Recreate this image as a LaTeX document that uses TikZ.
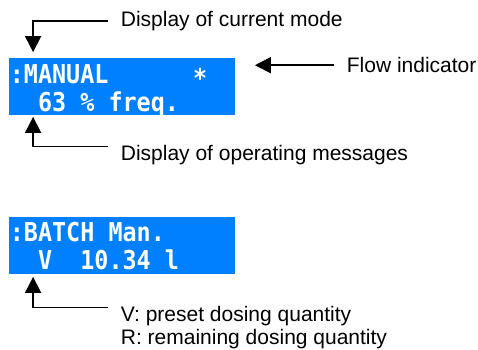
\documentclass[tikz,border=0pt]{standalone}
\usepackage{fontspec}
\setmainfont{Liberation Sans}
\newfontfamily\lcdfont[FakeStretch=0.9]{DejaVu Sans Mono}
\usepackage{tikz}
\usetikzlibrary{arrows.meta, positioning}
\definecolor{lcdblue}{RGB}{0,128,255}

\begin{document}
\begin{tikzpicture}[x=1pt,y=-1pt,->,>={Triangle[length=16pt,width=16pt]},line width=1.8pt,
    lcd/.style={fill=lcdblue,draw=none,minimum width=226pt,minimum height=57pt,inner sep=0pt},
    lcdtext/.style={anchor=base west,inner sep=0pt,text=white,font=\lcdfont\bfseries\fontsize{26}{26}\selectfont},
    label/.style={anchor=base west,inner sep=0pt,inner xsep=12pt,font=\fontsize{21}{23}\selectfont}]
      \useasboundingbox (0,0) rectangle (478,349);

      % upper display
      \node[lcd] (disp1) at (122,86.5) {};
      \node[lcdtext] (row1a) at (9,83) {:MANUAL~~~~~~\raisebox{-4pt}{*}};
      \node[lcdtext] (row1b) at (9,111) {~~63~\%~freq.};

      % lower display
      \node[lcd] (disp2) at (122,245.5) {};
      \node[lcdtext] (row2a) at (9,241) {:BATCH~Man.};
      \node[lcdtext] (row2b) at (9,269) {~~V~~10.34~l};

      \coordinate (tip1) at ([xshift=25pt,yshift=5pt]disp1.north west);
      \coordinate (tip2) at ([xshift=25pt,yshift=-1pt]disp1.south west);
      \coordinate (tip3) at ([xshift=25pt,yshift=-2pt]disp2.south west);

      \node[label] (mode) at (108,26.7) {Display of current mode};
      \node[label] (flow) at (334,72.7) {Flow indicator};
      \node[label] (msg) at (108,160.7) {Display of operating messages};
      \node[label,anchor=north west,align=left] (dose) at (108,305.5)
            {V: preset dosing quantity\\R: remaining dosing quantity};

      \draw (mode.west) -| (tip1);
      \draw[shorten >=19pt] (flow.west) -- (flow.west -| disp1.east);
      \draw ([yshift=-2pt]msg.north west) -| (tip2);
      \draw ([yshift=-2pt]dose.north west) -| (tip3);
    \end{tikzpicture}
\end{document}
